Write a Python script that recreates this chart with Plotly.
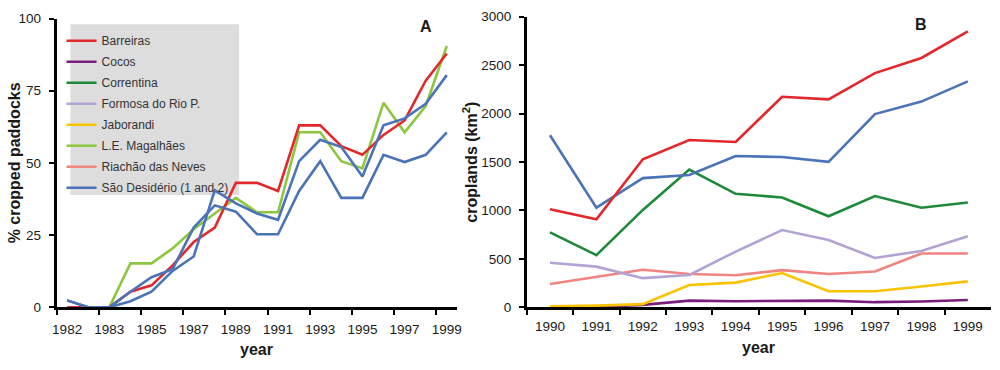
import plotly.graph_objects as go

# ---------------- Panel A data ----------------
a_x = [0, 1, 2, 3, 4, 5, 6, 7, 8, 9, 10, 11, 12, 13, 14, 15, 16, 17, 18]
a_tick_pos = [0, 2, 4, 6, 8, 10, 12, 14, 16, 18]
a_tick_labels = ["1982", "1983", "1985", "1987", "1989", "1991", "1993", "1995", "1997", "1999"]
a_barreiras = [0, 0, 0, 5.4, 7.6, 14.5, 22.6, 27.6, 43.1, 43.1, 40.3, 63.0, 63.0, 55.8, 52.8, 59.7, 64.7, 78.5, 87.9]
a_magalhaes = [0, 0, 0, 15.2, 15.2, 20.4, 27.0, 32.5, 37.9, 32.9, 32.9, 60.6, 60.6, 50.6, 48.1, 70.8, 60.6, 69.7, 90.5]
a_desiderio1 = [2.4, 0, 0, 2.1, 5.4, 12.6, 17.6, 40.5, 36.0, 32.5, 30.3, 50.6, 58.0, 55.5, 45.3, 63.0, 65.4, 70.5, 80.4]
a_desiderio2 = [2.4, 0, 0, 5.4, 10.4, 13.2, 27.6, 35.3, 33.1, 25.3, 25.3, 40.3, 50.6, 37.9, 37.9, 52.8, 50.3, 52.8, 60.6]

# ---------------- Panel B data ----------------
b_years = ["1990", "1991", "1992", "1993", "1994", "1995", "1996", "1997", "1998", "1999"]
b_barreiras = [1012, 909, 1528, 1726, 1706, 2173, 2146, 2417, 2573, 2847]
b_cocos = [5, 5, 25, 69, 63, 63, 69, 53, 60, 76]
b_correntina = [774, 539, 1005, 1422, 1171, 1134, 939, 1148, 1028, 1081]
b_formosa = [460, 420, 301, 334, 575, 797, 694, 509, 582, 734]
b_jaborandi = [10, 17, 33, 231, 255, 354, 165, 165, 215, 268]
b_riachao = [241, 314, 387, 344, 331, 384, 344, 370, 556, 556]
b_desiderio = [1776, 1028, 1333, 1366, 1561, 1551, 1501, 1994, 2123, 2331]

names = ["Barreiras", "Cocos", "Correntina", "Formosa do Rio P.", "Jaborandi",
         "L.E. Magalhães", "Riachão das Neves", "São Desidério (1 and 2)"]
colors = {
    "Barreiras": "#E2282C",
    "Cocos": "#7A1C7C",
    "Correntina": "#1D8A3A",
    "Formosa do Rio P.": "#B3A3D2",
    "Jaborandi": "#F9C300",
    "L.E. Magalhães": "#8DC63F",
    "Riachão das Neves": "#F08480",
    "São Desidério (1 and 2)": "#4A73B8",
}

LW = 2.6
fig = go.Figure()
shown = set()


def add(x, y, name, xa, ya):
    show = name not in shown
    shown.add(name)
    fig.add_trace(go.Scatter(
        x=x, y=y, mode="lines", name=name, legendgroup=name,
        showlegend=show, legendrank=names.index(name) + 1,
        line=dict(color=colors[name], width=LW),
        xaxis=xa, yaxis=ya, hoverinfo="skip"))


# Panel A
add(a_x, a_magalhaes, "L.E. Magalhães", "x", "y")
add(a_x, a_barreiras, "Barreiras", "x", "y")
add(a_x, a_desiderio2, "São Desidério (1 and 2)", "x", "y")
add(a_x, a_desiderio1, "São Desidério (1 and 2)", "x", "y")

# Panel B
add(b_years, b_cocos, "Cocos", "x2", "y2")
add(b_years, b_jaborandi, "Jaborandi", "x2", "y2")
add(b_years, b_riachao, "Riachão das Neves", "x2", "y2")
add(b_years, b_formosa, "Formosa do Rio P.", "x2", "y2")
add(b_years, b_correntina, "Correntina", "x2", "y2")
add(b_years, b_desiderio, "São Desidério (1 and 2)", "x2", "y2")
add(b_years, b_barreiras, "Barreiras", "x2", "y2")

W, H = 1000, 370
FONT = "Liberation Sans, Arial, sans-serif"
TICKFONT = dict(family=FONT, size=13.5, color="#1a1a1a")
TITLEFONT = dict(family=FONT, size=16, color="#1a1a1a")


def px(v):
    return v / W


def py(v):
    return (H - v) / H


axis_common = dict(showline=True, linecolor="black", linewidth=2.6, showgrid=False,
                   zeroline=False, tickfont=TICKFONT)


def label(text, x, y, angle=0):
    return dict(text=text, x=px(x), y=py(y), xref="paper", yref="paper",
                xanchor="center", yanchor="middle", showarrow=False,
                textangle=angle, font=TITLEFONT)


fig.update_layout(
    width=W, height=H,
    margin=dict(l=0, r=0, t=0, b=0),
    paper_bgcolor="white", plot_bgcolor="rgba(0,0,0,0)",
    font=dict(family=FONT, color="#1a1a1a"),
    xaxis=dict(domain=[px(53), px(457)], range=[-0.5, 18.5], anchor="y",
               tickmode="array", tickvals=a_tick_pos, ticktext=a_tick_labels,
               ticks="", ticklabelstandoff=8,
               minor=dict(tickmode="array", tickvals=[p - 0.5 for p in a_tick_pos],
                          ticks="outside", ticklen=5, tickwidth=2, tickcolor="black"),
               **axis_common),
    yaxis=dict(domain=[py(313), py(12)], range=[0, 100], anchor="x",
               tickmode="array", tickvals=[0, 25, 50, 75, 100],
               ticks="outside", ticklen=5, tickwidth=2, tickcolor="black",
               ticklabelstandoff=5, ticklabeloverflow="allow", **axis_common),
    xaxis2=dict(domain=[px(527), px(995)], type="category", categoryorder="array",
                categoryarray=b_years, range=[-0.5, 9.5], anchor="y2",
                tickson="boundaries", ticks="outside", ticklen=5, tickwidth=2,
                tickcolor="black", ticklabelstandoff=5, **axis_common),
    yaxis2=dict(domain=[py(313), py(10)], range=[0, 3000], anchor="x2",
                tickmode="array", tickvals=[0, 500, 1000, 1500, 2000, 2500, 3000],
                ticks="outside", ticklen=5, tickwidth=2, tickcolor="black",
                ticklabelstandoff=5, ticklabeloverflow="allow", **axis_common),
    legend=dict(x=px(58), y=py(20), xanchor="left", yanchor="top",
                bgcolor="rgba(0,0,0,0)", borderwidth=0,
                font=dict(family=FONT, size=12, color="#333333"),
                tracegroupgap=2, traceorder="grouped"),
    shapes=[dict(type="rect", xref="paper", yref="paper",
                 x0=px(67), x1=px(237), y0=py(196), y1=py(18),
                 fillcolor="#DDDDDD", line=dict(width=0), layer="below")],
    annotations=[
        label("<b>A</b>", 425, 20),
        label("<b>B</b>", 924, 18),
        label("<b>% cropped paddocks</b>", 11, 162, -90),
        label("<b>croplands (km<sup>2</sup>)</b>", 470, 162, -90),
        label("<b>year</b>", 255, 357),
        label("<b>year</b>", 761, 355),
    ],
)

POST = ("document.documentElement.style.margin='0';"
        "document.body.style.margin='0';document.body.style.overflow='hidden';"
        "var g=document.getElementById('{plot_id}');"
        "g.style.position='fixed';g.style.top='0px';g.style.left='0px';")

fig.write_html("out.html", post_script=POST, config={"displayModeBar": False})
